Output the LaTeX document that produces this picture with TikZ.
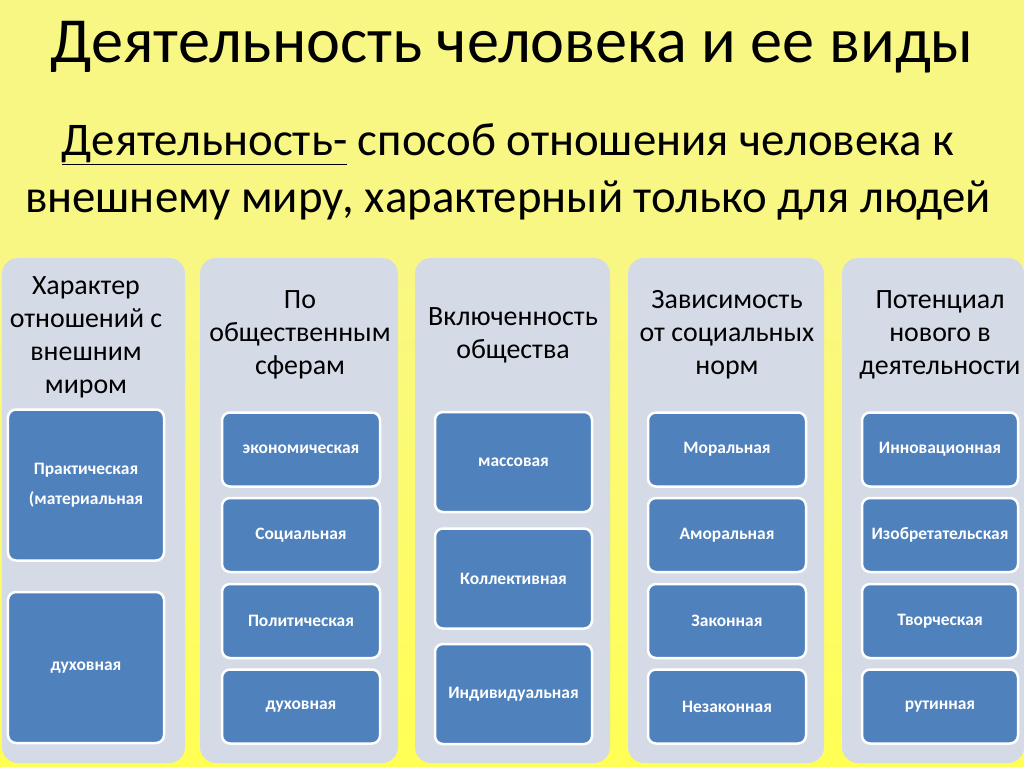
\documentclass[tikz,border=0pt]{standalone}
\usepackage{fontspec}
\setmainfont{Carlito}
\definecolor{bgyel}{HTML}{F9F784}
\definecolor{gapyel}{HTML}{FFFF55}
\definecolor{panelfill}{HTML}{D5DAE7}
\definecolor{boxblue}{HTML}{4F81BD}
\tikzset{
  panel/.style={fill=panelfill, rounded corners=16bp, draw=none},
  bluebox/.style={fill=boxblue, draw=white, line width=2.5bp, rounded corners=8bp, text=white,
    font=\bfseries\fontsize{17.5}{30}\selectfont, align=center, inner sep=0pt},
  head/.style={font=\fontsize{28}{33}\selectfont, align=center, text=black, inner sep=0pt},
}
\begin{document}
\begin{tikzpicture}[x=1bp,y=-1bp]
\useasboundingbox (0,0) rectangle (1024,767);
\fill[bgyel] (0,0) rectangle (1024,767);
\shade[top color=bgyel, bottom color=gapyel] (0,258) rectangle (1024,767);
% title
\node[inner sep=0pt, anchor=base, font=\fontsize{64.5}{66}\selectfont] (title) at (512,63) {Деятельность человека и ее виды};
\node[inner sep=0pt, font=\fontsize{47}{57}\selectfont, align=center] (def) at (508,172)
  {\underline{Деятельность-} способ отношения человека к\\ внешнему миру, характерный только для людей};
% panels
\node[panel, minimum width=183bp, minimum height=505bp] (p1) at (93.5,510.5) {};
\node[panel, minimum width=198bp, minimum height=505bp] (p2) at (299,510.5) {};
\node[panel, minimum width=195bp, minimum height=505bp] (p3) at (512.5,510.5) {};
\node[panel, minimum width=196bp, minimum height=505bp] (p4) at (726,510.5) {};
\node[panel, minimum width=182bp, minimum height=505bp] (p5) at (933,510.5) {};
% headers
\node[head] (h1) at (86,337) {Характер\\отношений с\\внешним\\миром};
\node[head] (h2) at (300,335) {По\\общественным\\сферам};
\node[head] (h3) at (513,335) {Включенность\\общества};
\node[head] (h4) at (727,335) {Зависимость\\от социальных\\норм};
\node[head] (h5) at (940,335) {Потенциал\\нового в\\деятельности};
% panel 1
\node[bluebox, minimum width=156bp, minimum height=151bp] (b11) at (86,485) {Практическая\\(материальная};
\node[bluebox, minimum width=156bp, minimum height=151bp] (b12) at (86,667.5) {духовная};
% panel 2
\node[bluebox, minimum width=158bp, minimum height=74bp] (b21) at (301,449.5) {экономическая};
\node[bluebox, minimum width=158bp, minimum height=74bp] (b22) at (301,535) {Социальная};
\node[bluebox, minimum width=158bp, minimum height=74bp] (b23) at (301,621) {Политическая};
\node[bluebox, minimum width=158bp, minimum height=74bp] (b24) at (301,706.5) {духовная};
% panel 3
\node[bluebox, minimum width=157bp, minimum height=100bp] (b31) at (513.5,462) {массовая};
\node[bluebox, minimum width=157bp, minimum height=100bp] (b32) at (513.5,578.5) {Коллективная};
\node[bluebox, minimum width=157bp, minimum height=100bp] (b33) at (513.5,694) {Индивидуальная};
% panel 4
\node[bluebox, minimum width=158bp, minimum height=74bp] (b41) at (727,449.5) {Моральная};
\node[bluebox, minimum width=158bp, minimum height=74bp] (b42) at (727,535) {Аморальная};
\node[bluebox, minimum width=158bp, minimum height=74bp] (b43) at (727,621) {Законная};
\node[bluebox, minimum width=158bp, minimum height=74bp] (b44) at (727,706.5) {Незаконная};
% panel 5
\node[bluebox, minimum width=156bp, minimum height=74bp] (b51) at (940,449.5) {Инновационная};
\node[bluebox, minimum width=156bp, minimum height=74bp] (b52) at (940,535) {Изобретательская};
\node[bluebox, minimum width=156bp, minimum height=74bp] (b53) at (940,621) {Творческая};
\node[bluebox, minimum width=156bp, minimum height=74bp] (b54) at (940,706.5) {рутинная};
\end{tikzpicture}
\end{document}
